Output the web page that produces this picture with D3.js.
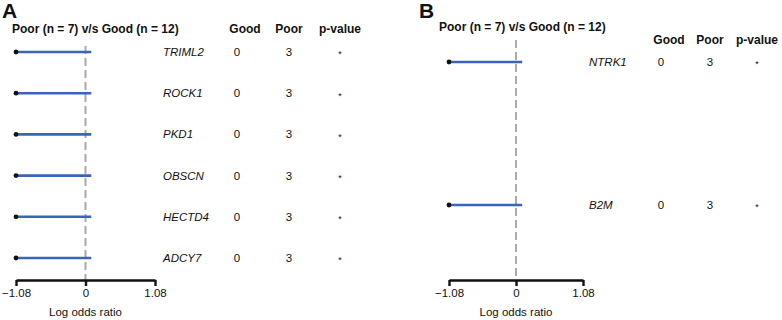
<!DOCTYPE html>
<head>
    <meta charset="utf-8">
    <title>Forest plots</title>
    <style>
        body { margin: 0; background: #fff; }
        text { font-family: "Liberation Sans", Arial, sans-serif; fill: #111; }
    </style>
</head>
<body>

<svg width="782" height="320"></svg>

<script src="https://d3js.org/d3.v7.min.js"></script>

<script>

// panel A
var genesA = ['TRIML2', 'ROCK1', 'PKD1', 'OBSCN', 'HECTD4', 'ADCY7'],
    estA = [-1.08, -1.08, -1.08, -1.08, -1.08, -1.08],
    upperA = [0.09, 0.09, 0.09, 0.09, 0.09, 0.09],
    goodA = [0, 0, 0, 0, 0, 0],
    poorA = [3, 3, 3, 3, 3, 3],
    pA = ['*', '*', '*', '*', '*', '*'];

// panel B
var genesB = ['NTRK1', 'B2M'],
    estB = [-1.08, -1.08],
    upperB = [0.1, 0.1],
    goodB = [0, 0],
    poorB = [3, 3],
    pB = ['*', '*'];

var axisTicks = [-1.08, 0, 1.08];
var title = 'Poor (n = 7) v/s Good (n = 12)';

var svg = d3.select('svg');

function panel(opt) {
    var g = svg.append('g');

    var x = d3.scaleLinear().domain([-1.08, 1.08]).range([opt.x0, opt.x1]);
    var y = d3.scalePoint().domain(opt.genes).range(opt.yRange);

    var rows = opt.genes.map((d, i) => ({
        gene: d, est: opt.est[i], upper: opt.upper[i],
        good: opt.good[i], poor: opt.poor[i], p: opt.p[i]
    }));

    // panel letter and title
    g.append('text')
        .attr('x', opt.letterX).attr('y', 18)
        .style('font-size', '21px').style('font-weight', 'bold')
        .text(opt.letter);
    g.append('text')
        .attr('x', opt.titleX).attr('y', opt.titleY)
        .style('font-size', '12px').style('font-weight', 'bold')
        .text(title);

    // column headers
    var cols = [['Good', opt.colGood], ['Poor', opt.colPoor], ['p-value', opt.colP]];
    g.selectAll('.hdr').data(cols).enter().append('text')
        .attr('x', d => d[1]).attr('y', opt.headY)
        .attr('text-anchor', 'middle')
        .style('font-size', '12px').style('font-weight', 'bold')
        .text(d => d[0]);

    // dashed null line
    g.append('line')
        .attr('x1', x(0)).attr('x2', x(0))
        .attr('y1', opt.dashTop).attr('y2', opt.axisY)
        .attr('stroke', '#aaa').attr('stroke-width', 2)
        .attr('stroke-dasharray', '8,4');

    // CI segments
    g.selectAll('.ci').data(rows).enter().append('line')
        .attr('x1', d => x(d.est)).attr('x2', d => x(d.upper))
        .attr('y1', d => y(d.gene)).attr('y2', d => y(d.gene))
        .attr('stroke', '#3a63bb').attr('stroke-width', 2.6);

    g.selectAll('.pt').data(rows).enter().append('circle')
        .attr('cx', d => x(d.est)).attr('cy', d => y(d.gene))
        .attr('r', 2.4).attr('fill', '#111');

    // table text
    g.selectAll('.gene').data(rows).enter().append('text')
        .attr('x', opt.geneX).attr('y', d => y(d.gene)).attr('dy', '0.35em')
        .style('font-size', '11.5px').style('font-style', 'italic')
        .text(d => d.gene);
    g.selectAll('.good').data(rows).enter().append('text')
        .attr('x', opt.colGood - 8).attr('y', d => y(d.gene)).attr('dy', '0.35em')
        .attr('text-anchor', 'middle').style('font-size', '11.5px')
        .text(d => d.good);
    g.selectAll('.poor').data(rows).enter().append('text')
        .attr('x', opt.colPoor).attr('y', d => y(d.gene)).attr('dy', '0.35em')
        .attr('text-anchor', 'middle').style('font-size', '11.5px')
        .text(d => d.poor);
    g.selectAll('.pv').data(rows).enter().append('text')
        .attr('x', opt.colP).attr('y', d => y(d.gene)).attr('dy', '0.6em')
        .attr('text-anchor', 'middle').style('font-size', '9px')
        .text(d => d.p);

    // x axis, ticks pointing down
    var ax = g.append('g')
        .attr('transform', `translate(0,${opt.axisY})`)
        .call(d3.axisBottom(x).tickValues(axisTicks).tickSize(6).tickSizeOuter(0)
            .tickFormat(d => d === 0 ? '0' : d3.format('.2f')(d)));
    ax.select('.domain').attr('stroke', '#111').attr('stroke-width', 2.4);
    ax.selectAll('.tick line').attr('stroke', '#111').attr('stroke-width', 2.4);
    ax.selectAll('.tick text')
        .style('font-size', '11.5px').style('font-family', '"Liberation Sans", Arial, sans-serif')
        .attr('fill', '#111').attr('y', 9);

    g.append('text')
        .attr('x', x(0)).attr('y', 316)
        .attr('text-anchor', 'middle').style('font-size', '11.5px')
        .text('Log odds ratio');
}

panel({
    letter: 'A', letterX: 2, titleX: 12, titleY: 33, headY: 33,
    x0: 16, x1: 155, genes: genesA, est: estA, upper: upperA,
    good: goodA, poor: poorA, p: pA,
    yRange: [52, 258], dashTop: 46, axisY: 280,
    geneX: 163, colGood: 245, colPoor: 289, colP: 340
});

panel({
    letter: 'B', letterX: 419, titleX: 439, titleY: 31, headY: 44,
    x0: 449, x1: 583, genes: genesB, est: estB, upper: upperB,
    good: goodB, poor: poorB, p: pB,
    yRange: [62, 205], dashTop: 40, axisY: 280,
    geneX: 589, colGood: 669, colPoor: 710, colP: 757
});

</script>

</body>
